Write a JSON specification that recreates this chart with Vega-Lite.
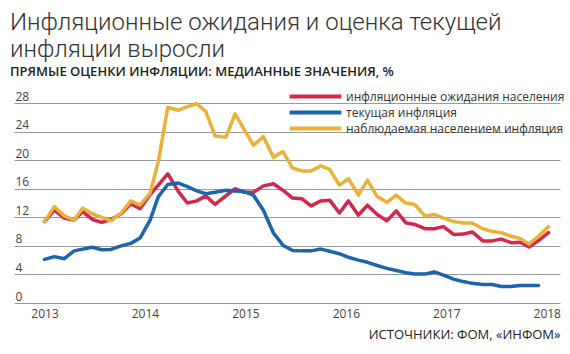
{
  "$schema": "https://vega.github.io/schema/vega-lite/v6.json",
  "width": 546,
  "height": 216,
  "padding": {"left": 10, "top": 10, "right": 10, "bottom": 2},
  "config": {"view": {"stroke": null}, "font": "Open Sans"},
  "title": {
    "text": ["Инфляционные ожидания и оценка текущей", "инфляции выросли"],
    "subtitle": "ПРЯМЫЕ ОЦЕНКИ ИНФЛЯЦИИ: МЕДИАННЫЕ ЗНАЧЕНИЯ, %",
    "anchor": "start",
    "dx": -4,
    "font": "Roboto",
    "fontSize": 24,
    "fontWeight": 300,
    "lineHeight": 27.5,
    "color": "#333333",
    "subtitleFont": "Open Sans",
    "subtitleFontSize": 13,
    "subtitleFontWeight": 600,
    "subtitleColor": "#222222",
    "subtitlePadding": 4,
    "offset": 8
  },
  "data": {
    "values": [
      {"t": 2013.000, "инфляционные ожидания населения": 11.4, "текущая инфляция": 6.1, "наблюдаемая населением инфляция": 11.4},
      {"t": 2013.098, "инфляционные ожидания населения": 13.0, "текущая инфляция": 6.5, "наблюдаемая населением инфляция": 13.5},
      {"t": 2013.197, "инфляционные ожидания населения": 11.9, "текущая инфляция": 6.2, "наблюдаемая населением инфляция": 12.2},
      {"t": 2013.294, "инфляционные ожидания населения": 11.6, "текущая инфляция": 7.3, "наблюдаемая населением инфляция": 11.6},
      {"t": 2013.380, "инфляционные ожидания населения": 12.8, "текущая инфляция": 7.55, "наблюдаемая населением инфляция": 13.3},
      {"t": 2013.476, "инфляционные ожидания населения": 11.7, "текущая инфляция": 7.8, "наблюдаемая населением инфляция": 12.5},
      {"t": 2013.570, "инфляционные ожидания населения": 11.3, "текущая инфляция": 7.45, "наблюдаемая населением инфляция": 12.0},
      {"t": 2013.662, "инфляционные ожидания населения": 11.7, "текущая инфляция": 7.5, "наблюдаемая населением инфляция": 11.5},
      {"t": 2013.762, "инфляционные ожидания населения": 12.5, "текущая инфляция": 8.0, "наблюдаемая населением инфляция": 12.6},
      {"t": 2013.859, "инфляционные ожидания населения": 13.9, "текущая инфляция": 8.35, "наблюдаемая населением инфляция": 14.3},
      {"t": 2013.951, "инфляционные ожидания населения": 13.2, "текущая инфляция": 9.1, "наблюдаемая населением инфляция": 13.7},
      {"t": 2014.051, "инфляционные ожидания населения": 15.2, "текущая инфляция": 11.6, "наблюдаемая населением инфляция": 15.4},
      {"t": 2014.133, "инфляционные ожидания населения": 16.5, "текущая инфляция": 14.9, "наблюдаемая населением инфляция": 19.8},
      {"t": 2014.227, "инфляционные ожидания населения": 18.1, "текущая инфляция": 16.6, "наблюдаемая населением инфляция": 27.4},
      {"t": 2014.333, "инфляционные ожидания населения": 15.6, "текущая инфляция": 16.8, "наблюдаемая населением инфляция": 27.0},
      {"t": 2014.422, "инфляционные ожидания населения": 14.0, "текущая инфляция": 16.3, "наблюдаемая населением инфляция": 27.5},
      {"t": 2014.516, "инфляционные ожидания населения": 14.3, "текущая инфляция": 15.7, "наблюдаемая населением инфляция": 27.9},
      {"t": 2014.606, "инфляционные ожидания населения": 15.0, "текущая инфляция": 15.3, "наблюдаемая населением инфляция": 26.8},
      {"t": 2014.698, "инфляционные ожидания населения": 13.8, "текущая инфляция": 15.5, "наблюдаемая населением инфляция": 23.4},
      {"t": 2014.805, "инфляционные ожидания населения": 15.0, "текущая инфляция": 15.8, "наблюдаемая населением инфляция": 23.2},
      {"t": 2014.897, "инфляционные ожидания населения": 16.0, "текущая инфляция": 15.7, "наблюдаемая населением инфляция": 26.5},
      {"t": 2014.987, "инфляционные ожидания населения": 15.5, "текущая инфляция": 15.6, "наблюдаемая населением инфляция": 24.3},
      {"t": 2015.080, "инфляционные ожидания населения": 15.5, "текущая инфляция": 15.1, "наблюдаемая населением инфляция": 22.1},
      {"t": 2015.179, "инфляционные ожидания населения": 16.4, "текущая инфляция": 13.0, "наблюдаемая населением инфляция": 23.3},
      {"t": 2015.279, "инфляционные ожидания населения": 16.7, "текущая инфляция": 9.8, "наблюдаемая населением инфляция": 20.4},
      {"t": 2015.373, "инфляционные ожидания населения": 15.8, "текущая инфляция": 8.1, "наблюдаемая населением инфляция": 21.2},
      {"t": 2015.470, "инфляционные ожидания населения": 14.7, "текущая инфляция": 7.35, "наблюдаемая населением инфляция": 18.9},
      {"t": 2015.562, "инфляционные ожидания населения": 14.6, "текущая инфляция": 7.3, "наблюдаемая населением инфляция": 18.5},
      {"t": 2015.654, "инфляционные ожидания населения": 13.6, "текущая инфляция": 7.3, "наблюдаемая населением инфляция": 18.5},
      {"t": 2015.751, "инфляционные ожидания населения": 14.3, "текущая инфляция": 7.55, "наблюдаемая населением инфляция": 19.2},
      {"t": 2015.839, "инфляционные ожидания населения": 14.4, "текущая инфляция": 7.25, "наблюдаемая населением инфляция": 18.7},
      {"t": 2015.936, "инфляционные ожидания населения": 12.6, "текущая инфляция": 6.9, "наблюдаемая населением инфляция": 16.5},
      {"t": 2016.026, "инфляционные ожидания населения": 14.3, "текущая инфляция": 6.4, "наблюдаемая населением инфляция": 17.4},
      {"t": 2016.125, "инфляционные ожидания населения": 12.3, "текущая инфляция": 6.0, "наблюдаемая населением инфляция": 15.1},
      {"t": 2016.215, "инфляционные ожидания населения": 13.7, "текущая инфляция": 5.7, "наблюдаемая населением инфляция": 17.2},
      {"t": 2016.312, "инфляционные ожидания населения": 12.4, "текущая инфляция": 5.25, "наблюдаемая населением инфляция": 14.9},
      {"t": 2016.408, "инфляционные ожидания населения": 11.5, "текущая инфляция": 4.85, "наблюдаемая населением инфляция": 14.1},
      {"t": 2016.501, "инфляционные ожидания населения": 12.9, "текущая инфляция": 4.55, "наблюдаемая населением инфляция": 15.1},
      {"t": 2016.596, "инфляционные ожидания населения": 11.25, "текущая инфляция": 4.25, "наблюдаемая населением инфляция": 14.0},
      {"t": 2016.685, "инфляционные ожидания населения": 11.0, "текущая инфляция": 4.05, "наблюдаемая населением инфляция": 13.8},
      {"t": 2016.787, "инфляционные ожидания населения": 10.4, "текущая инфляция": 4.05, "наблюдаемая населением инфляция": 12.2},
      {"t": 2016.880, "инфляционные ожидания населения": 10.4, "текущая инфляция": 4.35, "наблюдаемая населением инфляция": 12.4},
      {"t": 2016.972, "инфляционные ожидания населения": 10.7, "текущая инфляция": 3.9, "наблюдаемая населением инфляция": 11.9},
      {"t": 2017.072, "инфляционные ожидания населения": 9.6, "текущая инфляция": 3.35, "наблюдаемая населением инфляция": 11.4},
      {"t": 2017.168, "инфляционные ожидания населения": 9.65, "текущая инфляция": 3.0, "наблюдаемая населением инфляция": 11.2},
      {"t": 2017.258, "инфляционные ожидания населения": 9.95, "текущая инфляция": 2.75, "наблюдаемая населением инфляция": 11.2},
      {"t": 2017.363, "инфляционные ожидания населения": 8.7, "текущая инфляция": 2.6, "наблюдаемая населением инфляция": 10.4},
      {"t": 2017.457, "инфляционные ожидания населения": 8.7, "текущая инфляция": 2.6, "наблюдаемая населением инфляция": 10.0},
      {"t": 2017.547, "инфляционные ожидания населения": 8.95, "текущая инфляция": 2.3, "наблюдаемая населением инфляция": 9.85},
      {"t": 2017.646, "инфляционные ожидания населения": 8.45, "текущая инфляция": 2.3, "наблюдаемая населением инфляция": 9.35},
      {"t": 2017.736, "инфляционные ожидания населения": 8.5, "текущая инфляция": 2.45, "наблюдаемая населением инфляция": 9.05},
      {"t": 2017.823, "инфляционные ожидания населения": 7.85, "текущая инфляция": 2.45, "наблюдаемая населением инфляция": 8.25},
      {"t": 2017.918, "инфляционные ожидания населения": 8.75, "текущая инфляция": 2.45, "наблюдаемая населением инфляция": 9.35},
      {"t": 2018.018, "инфляционные ожидания населения": 9.85, "текущая инфляция": null, "наблюдаемая населением инфляция": 10.7}
    ]
  },
  "transform": [
    {"fold": ["инфляционные ожидания населения", "текущая инфляция", "наблюдаемая населением инфляция"], "as": ["series", "v"]}
  ],
  "mark": {"type": "line", "strokeWidth": 3.5, "strokeJoin": "round", "strokeCap": "round"},
  "encoding": {
    "x": {
      "field": "t",
      "type": "quantitative",
      "scale": {"domain": [2012.696, 2018.132], "nice": false, "zero": false},
      "axis": {
        "values": [2013, 2014, 2015, 2016, 2017, 2018],
        "format": "d",
        "grid": false,
        "ticks": false,
        "tickSize": 0,
        "domain": false,
        "labelFlush": false,
        "labelFontSize": 12,
        "labelColor": "#444444",
        "labelPadding": 5,
        "title": "ИСТОЧНИКИ: ФОМ, «ИНФОМ»",
        "titleAnchor": "end",
        "titleAlign": "right",
        "titleFontSize": 13,
        "titleFontWeight": "normal",
        "titleColor": "#222222",
        "titlePadding": 9
      }
    },
    "y": {
      "field": "v",
      "type": "quantitative",
      "scale": {"domain": [0, 30.25], "nice": false, "zero": true},
      "axis": {
        "values": [0, 4, 8, 12, 16, 20, 24, 28],
        "grid": true,
        "gridColor": "#9a9a9a",
        "gridWidth": 1,
        "ticks": false,
        "tickSize": 0,
        "domain": false,
        "labelAlign": "left",
        "labelBaseline": "alphabetic",
        "labelPadding": -1,
        "labelOffset": -3,
        "labelFontSize": 12,
        "labelColor": "#444444",
        "title": null
      }
    },
    "color": {
      "field": "series",
      "type": "nominal",
      "scale": {
        "domain": ["инфляционные ожидания населения", "текущая инфляция", "наблюдаемая населением инфляция"],
        "range": ["#d7264b", "#1d64ad", "#e9b138"]
      },
      "legend": {
        "orient": "none",
        "legendX": 294,
        "legendY": 2,
        "title": null,
        "symbolType": "M-4.7,0H4.7",
        "symbolSize": 121,
        "symbolStrokeWidth": 4,
        "labelFontSize": 12,
        "labelColor": "#333333",
        "labelOffset": 23,
        "labelLimit": 0,
        "rowPadding": -2,
        "padding": 0
      }
    }
  }
}
